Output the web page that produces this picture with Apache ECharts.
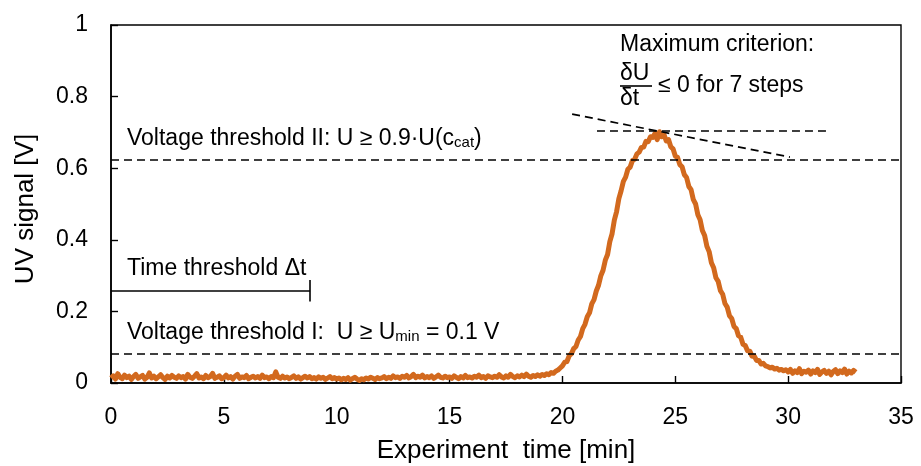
<!DOCTYPE html>
<html>
<head>
<meta charset="utf-8">
<script src="https://cdn.jsdelivr.net/npm/echarts@6/dist/echarts.min.js"></script>
<style>
  html, body { margin: 0; padding: 0; background: #fff; }
  #chart { width: 921px; height: 466px; }
</style>
</head>
<body>
<div id="chart"></div>
<script>
// UV signal sampled every 0.1 min, starting at 0 min (one row = 1 min)
const sampleStep = 0.1;
const uvSignal = [
  0.014, 0.020, 0.011, 0.026, 0.016, 0.012, 0.022, 0.015, 0.019, 0.010,
  0.018, 0.024, 0.013, 0.017, 0.021, 0.011, 0.016, 0.028, 0.014, 0.019,
  0.012, 0.017, 0.023, 0.015, 0.010, 0.019, 0.014, 0.021, 0.016, 0.013,
  0.020, 0.015, 0.018, 0.011, 0.024, 0.016, 0.013, 0.019, 0.026, 0.014,
  0.017, 0.012, 0.021, 0.015, 0.018, 0.027, 0.013, 0.016, 0.020, 0.012,
  0.015, 0.022, 0.014, 0.018, 0.011, 0.019, 0.024, 0.013, 0.017, 0.015,
  0.021, 0.012, 0.016, 0.019, 0.014, 0.018, 0.013, 0.022, 0.015, 0.017,
  0.012, 0.018, 0.015, 0.031, 0.016, 0.013, 0.019, 0.014, 0.017, 0.012,
  0.016, 0.020, 0.013, 0.017, 0.011, 0.015, 0.019, 0.014, 0.018, 0.012,
  0.015, 0.011, 0.017, 0.013, 0.016, 0.010, 0.014, 0.018, 0.012, 0.015,
  0.011, 0.014, 0.009, 0.013, 0.010, 0.015, 0.008, 0.012, 0.016, 0.011,
  0.007, 0.012, 0.009, 0.014, 0.011, 0.016, 0.013, 0.010, 0.015, 0.012,
  0.014, 0.018, 0.012, 0.016, 0.013, 0.020, 0.015, 0.017, 0.013, 0.019,
  0.016, 0.021, 0.014, 0.018, 0.024, 0.015, 0.019, 0.016, 0.022, 0.014,
  0.018, 0.015, 0.020, 0.013, 0.017, 0.022, 0.016, 0.014, 0.019, 0.015,
  0.017, 0.013, 0.020, 0.016, 0.012, 0.018, 0.014, 0.021, 0.015, 0.017,
  0.014, 0.019, 0.016, 0.022, 0.015, 0.018, 0.013, 0.020, 0.017, 0.015,
  0.019, 0.016, 0.023, 0.017, 0.014, 0.020, 0.016, 0.024, 0.018, 0.015,
  0.020, 0.017, 0.022, 0.018, 0.025, 0.019, 0.016, 0.021, 0.018, 0.023,
  0.019, 0.024, 0.021, 0.026, 0.023, 0.029, 0.027, 0.033, 0.036, 0.042,
  0.048, 0.058, 0.060, 0.076, 0.082, 0.096, 0.102, 0.120, 0.130, 0.152,
  0.164, 0.185, 0.196, 0.221, 0.233, 0.257, 0.273, 0.299, 0.315, 0.343,
  0.359, 0.395, 0.417, 0.455, 0.479, 0.515, 0.537, 0.563, 0.575, 0.597,
  0.603, 0.621, 0.625, 0.640, 0.645, 0.658, 0.659, 0.675, 0.674, 0.688,
  0.686, 0.697, 0.680, 0.702, 0.688, 0.694, 0.676, 0.680, 0.660, 0.654,
  0.634, 0.630, 0.610, 0.604, 0.582, 0.574, 0.549, 0.540, 0.512, 0.500,
  0.470, 0.456, 0.426, 0.412, 0.382, 0.367, 0.336, 0.322, 0.294, 0.284,
  0.258, 0.248, 0.222, 0.212, 0.188, 0.180, 0.158, 0.152, 0.132, 0.128,
  0.108, 0.105, 0.090, 0.089, 0.075, 0.075, 0.063, 0.063, 0.053, 0.055,
  0.048, 0.046, 0.042, 0.044, 0.039, 0.041, 0.036, 0.038, 0.034, 0.037,
  0.031, 0.038, 0.027, 0.034, 0.029, 0.040, 0.026, 0.033, 0.030, 0.036,
  0.025, 0.034, 0.029, 0.038, 0.024, 0.031, 0.035, 0.027, 0.033, 0.023,
  0.032, 0.037, 0.026, 0.034, 0.029, 0.039, 0.025, 0.033, 0.028, 0.035,
  0.030
];

const xTicks = { min: 0, max: 35, interval: 5 };
const yTicks = { min: 0, max: 1, interval: 0.2 };

// annotation levels (V) and times (min)
const thresholdII = 0.625;
const thresholdI = 0.082;
const timeThreshold = { end: 8.82, level: 0.258, tickLow: 0.228, tickHigh: 0.288 };
const maxFlat = { from: 21.53, to: 31.72, level: 0.704 };
const maxSlope = [[20.43, 0.751], [30.08, 0.631]];

const seriesData = uvSignal.map((v, i) => [+(i * sampleStep).toFixed(1), v]);

const FONT = 'Liberation Sans, Arial, sans-serif';
const dashed = { color: '#000', width: 1.7, type: [8, 5] };
const solid = { color: '#000', width: 1.6, type: 'solid' };

const chart = echarts.init(document.getElementById('chart'));
chart.setOption({
  animation: false,
  grid: {
    left: 111, right: 20, top: 25, bottom: 83,
    outerBoundsMode: 'none',
    containLabel: false,
    show: true, borderColor: '#000', borderWidth: 1.4
  },
  xAxis: {
    type: 'value',
    min: xTicks.min, max: xTicks.max, interval: xTicks.interval,
    name: 'Experiment  time [min]',
    nameLocation: 'middle', nameGap: 55,
    nameTextStyle: { fontFamily: FONT, fontSize: 26, color: '#000' },
    axisLine: { lineStyle: { color: '#000', width: 1.6 } },
    axisTick: { inside: true, length: 7, lineStyle: { color: '#000', width: 1.4 } },
    axisLabel: { fontFamily: FONT, fontSize: 23, color: '#000', margin: 23 },
    splitLine: { show: false }
  },
  yAxis: {
    type: 'value',
    min: yTicks.min, max: yTicks.max, interval: yTicks.interval,
    name: 'UV signal [V]',
    nameLocation: 'middle', nameGap: 72,
    nameTextStyle: { fontFamily: FONT, fontSize: 26, color: '#000', padding: [0, 10, 0, 0] },
    axisLine: { lineStyle: { color: '#000', width: 1.6 } },
    axisTick: { inside: true, length: 7, lineStyle: { color: '#000', width: 1.4 } },
    axisLabel: { fontFamily: FONT, fontSize: 23, color: '#000', margin: 23 },
    splitLine: { show: false }
  },
  series: [
    {
      type: 'line',
      data: seriesData,
      symbol: 'none',
      lineStyle: { color: '#d2691e', width: 5, join: 'round' },
      z: 2
    },
    {
      type: 'line',
      data: [],
      z: 5,
      markLine: {
        silent: true,
        symbol: 'none',
        animation: false,
        label: { show: false },
        data: [
          [{ coord: [xTicks.min, thresholdII], lineStyle: dashed }, { coord: [xTicks.max, thresholdII] }],
          [{ coord: [xTicks.min, thresholdI], lineStyle: dashed }, { coord: [xTicks.max, thresholdI] }],
          [{ coord: [maxFlat.from, maxFlat.level], lineStyle: dashed }, { coord: [maxFlat.to, maxFlat.level] }],
          [{ coord: maxSlope[0], lineStyle: dashed }, { coord: maxSlope[1] }],
          [{ coord: [0, timeThreshold.level], lineStyle: solid }, { coord: [timeThreshold.end, timeThreshold.level] }],
          [{ coord: [timeThreshold.end, timeThreshold.tickLow], lineStyle: solid }, { coord: [timeThreshold.end, timeThreshold.tickHigh] }]
        ]
      }
    }
  ],
  graphic: [
    {
      type: 'text', x: 127, y: 139, z: 10,
      style: {
        text: 'Voltage threshold II: U ≥ 0.9·U(c{sub|cat})',
        fontFamily: FONT, fontSize: 23, fill: '#000', verticalAlign: 'middle',
        rich: { sub: { fontFamily: FONT, fontSize: 15, fill: '#000', verticalAlign: 'bottom', lineHeight: 15 } }
      }
    },
    {
      type: 'text', x: 127, y: 269, z: 10,
      style: { text: 'Time threshold Δt', fontFamily: FONT, fontSize: 23, fill: '#000', verticalAlign: 'middle' }
    },
    {
      type: 'text', x: 127, y: 333, z: 10,
      style: {
        text: 'Voltage threshold I:  U ≥ U{sub|min} = 0.1 V',
        fontFamily: FONT, fontSize: 23, fill: '#000', verticalAlign: 'middle',
        rich: { sub: { fontFamily: FONT, fontSize: 15, fill: '#000', verticalAlign: 'bottom', lineHeight: 15 } }
      }
    },
    {
      type: 'text', x: 620, y: 45, z: 10,
      style: { text: 'Maximum criterion:', fontFamily: FONT, fontSize: 23, fill: '#000', verticalAlign: 'middle' }
    },
    {
      type: 'text', x: 620, y: 74, z: 10,
      style: { text: 'δU', fontFamily: FONT, fontSize: 23, fill: '#000', verticalAlign: 'middle' }
    },
    {
      type: 'line', z: 10,
      shape: { x1: 620, y1: 86, x2: 652, y2: 86 },
      style: { stroke: '#000', lineWidth: 1.6 }
    },
    {
      type: 'text', x: 620, y: 99, z: 10,
      style: { text: 'δt', fontFamily: FONT, fontSize: 23, fill: '#000', verticalAlign: 'middle' }
    },
    {
      type: 'text', x: 658, y: 86, z: 10,
      style: { text: '≤ 0 for 7 steps', fontFamily: FONT, fontSize: 23, fill: '#000', verticalAlign: 'middle' }
    }
  ]
});
</script>
</body>
</html>
